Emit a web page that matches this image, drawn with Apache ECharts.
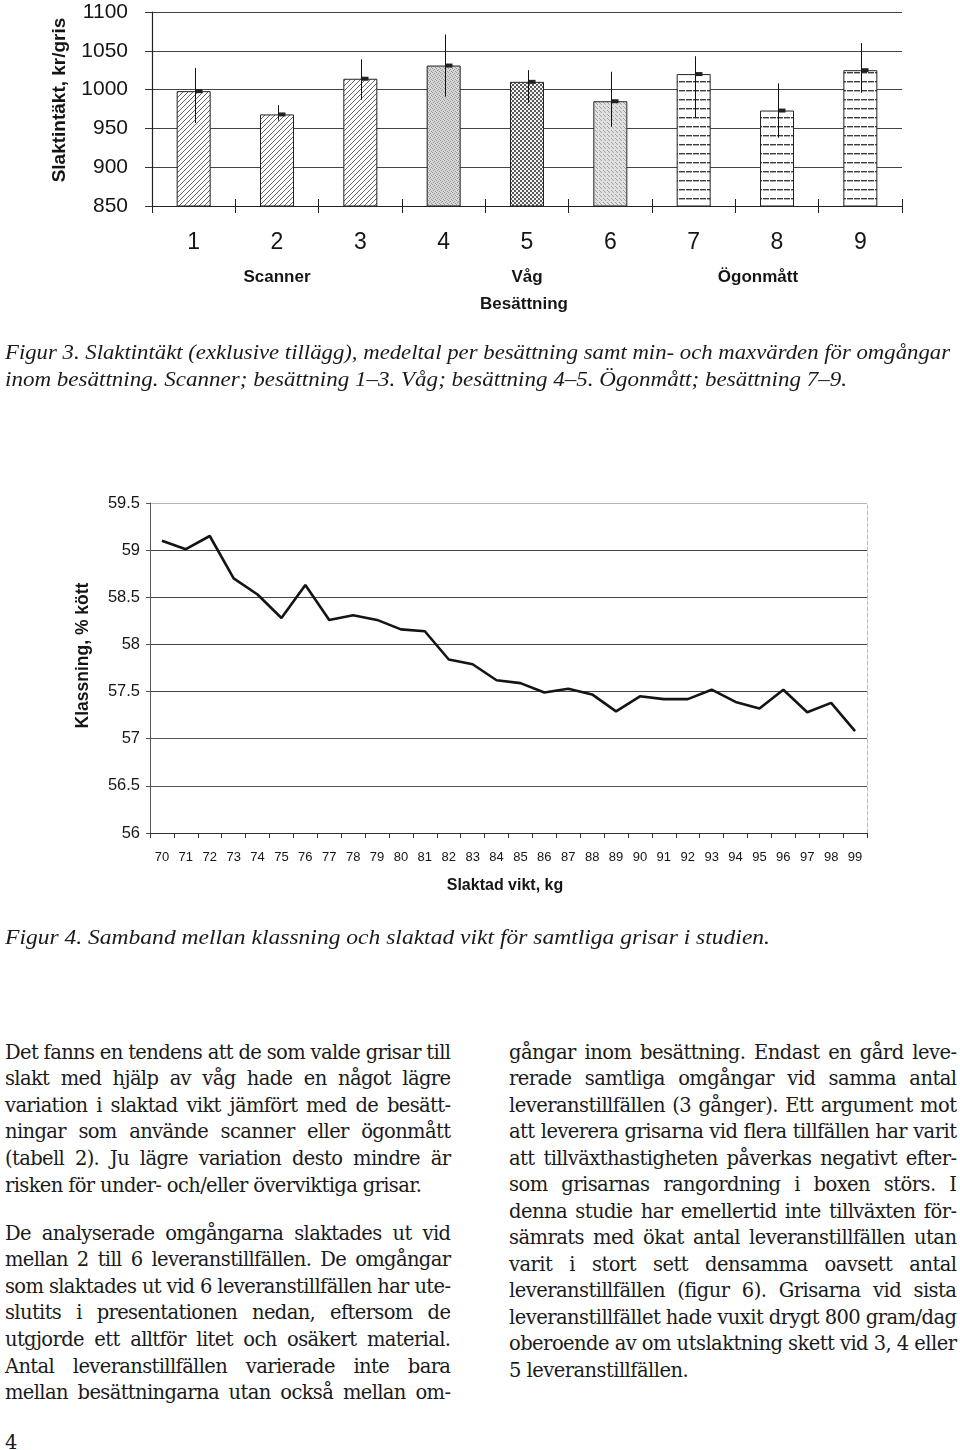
<!DOCTYPE html>
<html>
<head>
<meta charset="utf-8">
<script src="https://cdn.jsdelivr.net/npm/echarts@6/dist/echarts.min.js"></script>
<style>
html,body{margin:0;padding:0;background:#fff;}
body{width:960px;height:1450px;position:relative;overflow:hidden;}
#chart{position:absolute;left:0;top:0;width:960px;height:960px;}
.ln{position:absolute;white-space:nowrap;color:#1a1a1a;}
.body{font-family:'DejaVu Serif','Liberation Serif',serif;}
.cap{font-family:'Liberation Serif','Times New Roman',serif;font-style:italic;transform-origin:0 0;}
</style>
</head>
<body>
<div id="chart"></div>
<script>
// ---------------- DATA ----------------
const farms = ['1', '2', '3', '4', '5', '6', '7', '8', '9'];
const methodLabels = ['', 'Scanner', '', '', 'Våg', '', '', 'Ögonmått', ''];
const meanIncome = [998, 968, 1014, 1031, 1010, 985, 1020, 973, 1025];
const minIncome  = [957, 960, 987, 991, 983, 952, 964, 938, 996];
const maxIncome  = [1028, 980, 1039, 1071, 1025, 1023, 1043, 1008, 1060];

const weightKg = ['70','71','72','73','74','75','76','77','78','79','80','81','82','83','84',
                  '85','86','87','88','89','90','91','92','93','94','95','96','97','98','99'];
const gradingPct = [59.10, 59.01, 59.15, 58.70, 58.53, 58.28, 58.63, 58.26, 58.31, 58.26,
                    58.16, 58.14, 57.84, 57.79, 57.62, 57.59, 57.49, 57.53, 57.47, 57.29,
                    57.45, 57.42, 57.42, 57.52, 57.39, 57.32, 57.52, 57.28, 57.38, 57.08];

const caption3 = [
  'Figur 3. Slaktintäkt (exklusive tillägg), medeltal per besättning samt min- och maxvärden för omgångar',
  'inom besättning. Scanner; besättning 1–3. Våg; besättning 4–5. Ögonmått; besättning 7–9.'
];
const caption4 = ['Figur 4. Samband mellan klassning och slaktad vikt för samtliga grisar i studien.'];

const leftPara1 = [
  'Det fanns en tendens att de som valde grisar till',
  'slakt med hjälp av våg hade en något lägre',
  'variation i slaktad vikt jämfört med de besätt-',
  'ningar som använde scanner eller ögonmått',
  '(tabell 2). Ju lägre variation desto mindre är',
  'risken för under- och/eller överviktiga grisar.'
];
const leftPara2 = [
  'De analyserade omgångarna slaktades ut vid',
  'mellan 2 till 6 leveranstillfällen. De omgångar',
  'som slaktades ut vid 6 leveranstillfällen har ute-',
  'slutits i presentationen nedan, eftersom de',
  'utgjorde ett alltför litet och osäkert material.',
  'Antal leveranstillfällen varierade inte bara',
  'mellan besättningarna utan också mellan om-'
];
const rightPara = [
  'gångar inom besättning. Endast en gård leve-',
  'rerade samtliga omgångar vid samma antal',
  'leveranstillfällen (3 gånger). Ett argument mot',
  'att leverera grisarna vid flera tillfällen har varit',
  'att tillväxthastigheten påverkas negativt efter-',
  'som grisarnas rangordning i boxen störs. I',
  'denna studie har emellertid inte tillväxten för-',
  'sämrats med ökat antal leveranstillfällen utan',
  'varit i stort sett densamma oavsett antal',
  'leveranstillfällen (figur 6). Grisarna vid sista',
  'leveranstillfället hade vuxit drygt 800 gram/dag',
  'oberoende av om utslaktning skett vid 3, 4 eller',
  '5 leveranstillfällen.'
];
const pageNumber = '4';

// ---------------- PATTERNS ----------------
function makePattern(kind) {
  const c = document.createElement('canvas');
  let ctx;
  if (kind === 'hatch') {
    c.width = 5; c.height = 5; ctx = c.getContext('2d');
    ctx.fillStyle = '#fff'; ctx.fillRect(0, 0, 5, 5);
    ctx.strokeStyle = '#555'; ctx.lineWidth = 0.9;
    ctx.beginPath();
    ctx.moveTo(0, 5); ctx.lineTo(5, 0);
    ctx.moveTo(-1, 1); ctx.lineTo(1, -1);
    ctx.moveTo(4, 6); ctx.lineTo(6, 4);
    ctx.stroke();
  } else if (kind === 'stipple') {
    c.width = 4; c.height = 4; ctx = c.getContext('2d');
    ctx.fillStyle = '#d6d6d6'; ctx.fillRect(0, 0, 4, 4);
    ctx.fillStyle = '#959595';
    [[0,0],[2,1],[1,2],[3,3]].forEach(p => ctx.fillRect(p[0], p[1], 1, 1));
  } else if (kind === 'check') {
    c.width = 4; c.height = 4; ctx = c.getContext('2d');
    ctx.fillStyle = '#f4f4f4'; ctx.fillRect(0, 0, 4, 4);
    ctx.fillStyle = '#5a5a5a';
    ctx.fillRect(0, 0, 2, 2); ctx.fillRect(2, 2, 2, 2);
  } else if (kind === 'light') {
    c.width = 4; c.height = 4; ctx = c.getContext('2d');
    ctx.fillStyle = '#e0e0e0'; ctx.fillRect(0, 0, 4, 4);
    ctx.fillStyle = '#a2a2a2';
    [[1,0],[3,2],[0,3]].forEach(p => ctx.fillRect(p[0], p[1], 1, 1));
  } else {
    c.width = 7; c.height = 9; ctx = c.getContext('2d');
    ctx.fillStyle = '#fff'; ctx.fillRect(0, 0, 7, 9);
    ctx.fillStyle = '#3c3c3c'; ctx.fillRect(0, 0, 6, 1.4);
  }
  return { image: c, repeat: 'repeat' };
}
const barStyles = ['hatch','hatch','hatch','stipple','check','light','hlines','hlines','hlines'];

const SANS = "'Liberation Sans', Arial, Helvetica, sans-serif";
const INK = '#151515';

const chart = echarts.init(document.getElementById('chart'), null, { renderer: 'canvas' });

const option = {
  animation: false,
  backgroundColor: '#fff',
  textStyle: { fontFamily: SANS, color: INK },
  grid: [
    { left: 152, top: 12, width: 750, height: 194 },
    { left: 150, top: 503, width: 717, height: 330 }
  ],
  xAxis: [
    { // chart 1 main axis
      type: 'category', gridIndex: 0, data: farms, position: 'bottom',
      axisLine: { lineStyle: { color: '#222', width: 1.2 } },
      axisTick: { show: true, length: 7, lineStyle: { color: '#222' } },
      axisLabel: { fontSize: 23, color: INK, margin: 25, fontFamily: SANS },
      splitLine: { show: false }
    },
    { // inner half of crossing ticks
      type: 'category', gridIndex: 0, data: farms, position: 'bottom',
      axisLine: { show: false },
      axisTick: { show: true, inside: true, length: 7, lineStyle: { color: '#222' } },
      axisLabel: { show: false }, splitLine: { show: false }
    },
    { // method group labels
      type: 'category', gridIndex: 0, position: 'bottom',
      data: methodLabels.map((v, i) => (i === 7 ? { value: v, textStyle: { padding: [0, 38, 0, 0] } } : v)),
      axisLine: { show: false }, axisTick: { show: false }, splitLine: { show: false },
      axisLabel: { interval: 0, fontSize: 17, fontWeight: 'bold', color: INK, margin: 63, fontFamily: SANS },
      name: 'Besättning', nameLocation: 'middle', nameGap: 90,
      nameTextStyle: { fontSize: 17, fontWeight: 'bold', color: INK, fontFamily: SANS, padding: [0, 6, 0, 0] }
    },
    { // chart 2
      type: 'category', gridIndex: 1, data: weightKg, position: 'bottom',
      axisLine: { lineStyle: { color: '#333', width: 1 } },
      axisTick: { show: true, length: 5, interval: 0, lineStyle: { color: '#333' } },
      axisLabel: { interval: 0, fontSize: 13, color: INK, margin: 18, fontFamily: SANS },
      splitLine: { show: false },
      name: 'Slaktad vikt, kg', nameLocation: 'middle', nameGap: 45,
      nameTextStyle: { fontSize: 16, fontWeight: 'bold', color: INK, fontFamily: SANS, padding: [0, 7, 0, 0] }
    }
  ],
  yAxis: [
    {
      type: 'value', gridIndex: 0, min: 850, max: 1100, interval: 50,
      axisLine: { show: true, lineStyle: { color: '#222', width: 1.2 } },
      axisTick: { show: true, length: 7, lineStyle: { color: '#333' } },
      axisLabel: { fontSize: 21, color: INK, margin: 24, fontFamily: SANS, formatter: v => String(v) },
      splitLine: { show: true, lineStyle: { color: '#444', width: 1.2 } },
      name: 'Slaktintäkt, kr/gris', nameLocation: 'middle', nameGap: 83,
      nameTextStyle: { fontSize: 19, fontWeight: 'bold', color: INK, fontFamily: SANS, padding: [0, 0, 0, 18] }
    },
    {
      type: 'value', gridIndex: 1, min: 56, max: 59.5, interval: 0.5,
      axisLine: { show: true, lineStyle: { color: '#555', width: 1 } },
      axisTick: { show: true, length: 4, lineStyle: { color: '#555' } },
      axisLabel: { fontSize: 16.5, color: INK, margin: 10, fontFamily: SANS, formatter: v => String(v) },
      splitLine: { show: true, lineStyle: { color: ['#444','#555','#555','#444','#444','#444','#444','#b5b5b5'], width: 1.2 } },
      name: 'Klassning, % kött', nameLocation: 'middle', nameGap: 58,
      nameTextStyle: { fontSize: 17.5, fontWeight: 'bold', color: INK, fontFamily: SANS, padding: [0, 0, 0, 25] }
    },
    { // right border of chart 2
      type: 'value', gridIndex: 1, min: 56, max: 59.5, interval: 0.5, position: 'right',
      axisLine: { show: true, lineStyle: { color: '#bdbdbd', width: 1, type: 'dashed' } },
      axisTick: { show: false }, axisLabel: { show: false }, splitLine: { show: false }
    }
  ],
  series: [
    {
      type: 'bar', xAxisIndex: 0, yAxisIndex: 0, barWidth: 34,
      data: meanIncome.map((v, i) => ({
        value: v,
        itemStyle: { color: makePattern(barStyles[i]), borderColor: '#222', borderWidth: 1 }
      })),
      z: 3
    },
    {
      type: 'custom', xAxisIndex: 0, yAxisIndex: 0, z: 10,
      data: farms.map((f, i) => [i, minIncome[i], maxIncome[i], meanIncome[i]]),
      encode: { x: 0, y: [1, 2] },
      renderItem: function (params, api) {
        const idx = api.value(0);
        const lo = api.coord([idx, api.value(1)]);
        const hi = api.coord([idx, api.value(2)]);
        const m = api.coord([idx, api.value(3)]);
        const cx = Math.round(lo[0]) + 1.5;
        return {
          type: 'group',
          children: [
            { type: 'line', shape: { x1: cx, y1: hi[1], x2: cx, y2: lo[1] }, style: { stroke: '#111', lineWidth: 1 } },
            { type: 'rect', shape: { x: cx, y: m[1] - 2, width: 7, height: 4 }, style: { fill: '#222' } }
          ]
        };
      }
    },
    {
      type: 'line', xAxisIndex: 3, yAxisIndex: 1, data: gradingPct,
      symbol: 'none', lineStyle: { color: '#141414', width: 2.6 }, z: 5
    }
  ]
};
chart.setOption(option);

// ---------------- TEXT LAYOUT ----------------
function makeLine(text, cls, x, baseline, fontSize, ascentFactor) {
  const d = document.createElement('div');
  d.className = 'ln ' + cls;
  d.style.fontSize = fontSize + 'px';
  d.style.lineHeight = fontSize + 'px';
  d.style.left = x + 'px';
  d.style.top = (baseline - ascentFactor * fontSize) + 'px';
  d.textContent = text;
  document.body.appendChild(d);
  return d;
}

// captions: condensed italic, scaled to the measured line widths
const capFont = 22;
function addCaption(text, baseline, targetW) {
  const d = makeLine(text, 'cap', 5, baseline, capFont, 0.8375);
  const w = d.getBoundingClientRect().width;
  d.style.transform = 'scaleX(' + (targetW / w) + ')';
}
addCaption(caption3[0], 359, 945);
addCaption(caption3[1], 386, 842);
addCaption(caption4[0], 944, 765);

// body text: justified columns
const bodyFont = 19.5;
const bodyAscent = 0.846;
function layoutColumn(paras, x, W, pitch) {
  const items = [];
  paras.forEach(p => {
    p.lines.forEach((t, i) => {
      const last = i === p.lines.length - 1;
      const d = makeLine(t, 'body', x, p.base + i * pitch, bodyFont, bodyAscent);
      items.push({ d, t, justify: !last || p.justifyLast });
    });
  });
  // common letter spacing so the tightest justified line fits naturally
  let ls = Infinity;
  items.forEach(it => {
    if (!it.justify) return;
    const w = it.d.getBoundingClientRect().width;
    const v = (W - w) / it.t.length;
    if (v < ls) ls = v;
  });
  if (!isFinite(ls)) ls = 0;
  items.forEach(it => { it.d.style.letterSpacing = ls + 'px'; });
  items.forEach(it => {
    if (!it.justify) return;
    const w = it.d.getBoundingClientRect().width - ls; // trailing spacing
    const spaces = (it.t.match(/ /g) || []).length;
    if (spaces > 0) it.d.style.wordSpacing = ((W - w) / spaces) + 'px';
  });
}
layoutColumn([
  { lines: leftPara1, base: 1059, justifyLast: false },
  { lines: leftPara2, base: 1240, justifyLast: true }
], 5, 446, 26.6);
layoutColumn([
  { lines: rightPara, base: 1059, justifyLast: false }
], 509, 448, 26.5);
makeLine(pageNumber, 'body', 5, 1449, bodyFont, bodyAscent);
</script>
</body>
</html>
